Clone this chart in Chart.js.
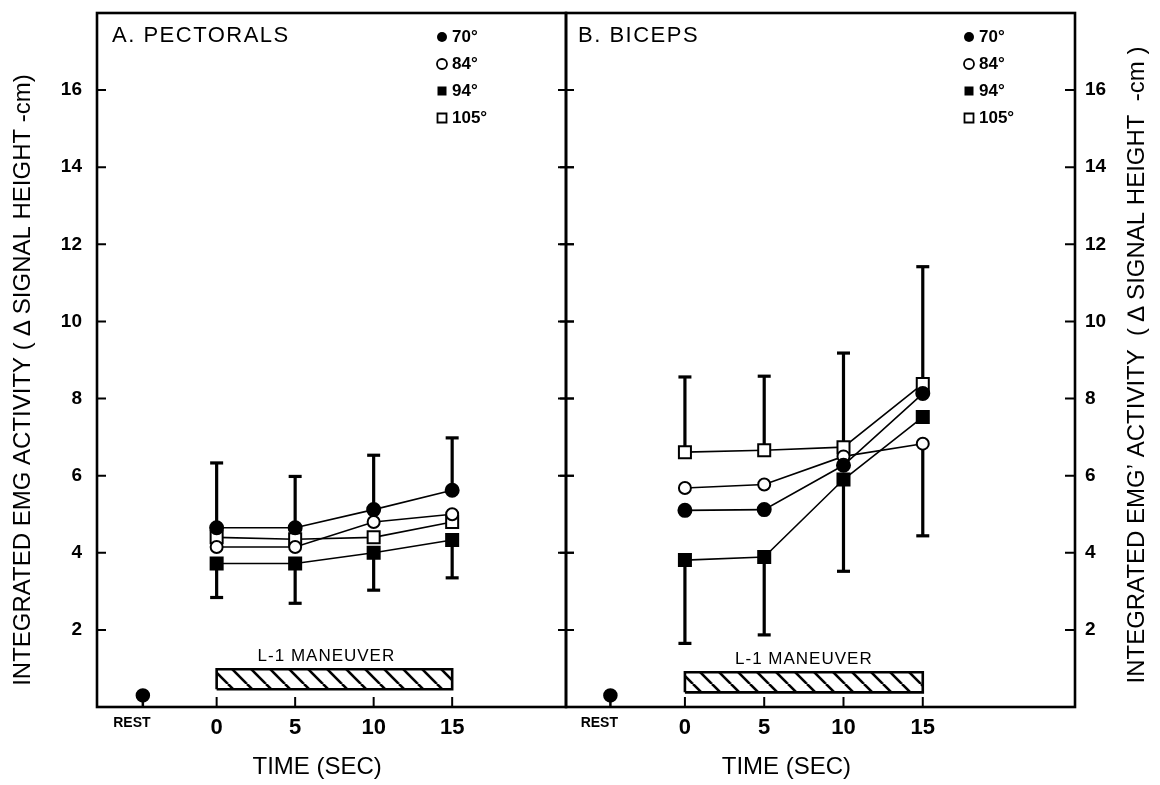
<!DOCTYPE html>
<html><head><meta charset="utf-8">
<script src="https://cdn.jsdelivr.net/npm/chart.js@4.4.1/dist/chart.umd.min.js"></script>
<style>
html,body{margin:0;padding:0;background:#fff;}
#wrap{position:relative;width:1160px;height:785px;overflow:hidden;background:#fff;}
#cA{position:absolute;left:0;top:0;}
#cB{position:absolute;left:560px;top:0;}
</style></head><body>
<div id="wrap"><canvas id="cA" width="580" height="785"></canvas><canvas id="cB" width="600" height="785"></canvas></div>
<script>
// ---------- DATA ----------
const times = [0, 5, 10, 15];
const seriesNames = ['70°', '84°', '94°', '105°'];
// A. Pectorals
const pect70  = [4.65, 4.65, 5.12, 5.62];
const pect84  = [4.15, 4.15, 4.80, 5.00];
const pect94  = [3.72, 3.72, 4.00, 4.33];
const pect105 = [4.40, 4.35, 4.40, 4.80];
const pectErrUpper = [6.33, 5.98, 6.53, 6.98];
const pectErrLower = [2.84, 2.69, 3.03, 3.35];
// B. Biceps
const bicep70  = [5.10, 5.12, 6.27, 8.13];
const bicep84  = [5.68, 5.77, 6.50, 6.83];
const bicep94  = [3.81, 3.89, 5.90, 7.52];
const bicep105 = [6.61, 6.66, 6.74, 8.38];
const bicepErrUpper = [8.56, 8.58, 9.18, 11.42];
const bicepErrLower = [1.65, 1.87, 3.52, 4.44];
// rest marker
const restTime = -4.7;
const restValue = 0.3;
// ticks
const xTickValues = [-5.4, 0, 5, 10, 15];
const xTickLabels = ['REST', '0', '5', '10', '15'];
const yTickValues = [2, 4, 6, 8, 10, 12, 14, 16];
// L-1 maneuver bar
const maneuverTime = [0, 15];
const pectManeuver = [0.46, 0.98];
const bicepManeuver = [0.38, 0.90];
const maneuverLabel = 'L-1 MANEUVER';
const xTitle = 'TIME (SEC)';
const yTitleLeft = 'INTEGRATED EMG ACTIVITY ( \u2206 SIGNAL HEIGHT -cm)';
const yTitleRight = 'INTEGRATED EMG\u2019 ACTIVITY  ( \u2206 SIGNAL HEIGHT  -cm )';

// ---------- STYLE ----------
const FAM = "'Liberation Sans', Arial, Helvetica, sans-serif";
const markerStyles = [
  {shape: 'circle', r: 6.5, fill: true},
  {shape: 'circle', r: 6, fill: false},
  {shape: 'rect', r: 8.5, fill: true},
  {shape: 'rect', r: 8.5, fill: false}
];

function hatchPattern() {
  const c = document.createElement('canvas');
  c.width = 19; c.height = 19;
  const g = c.getContext('2d');
  g.fillStyle = '#fff'; g.fillRect(0, 0, 19, 19);
  g.strokeStyle = '#000'; g.lineWidth = 2.6;
  for (const off of [-19, 0, 19]) {
    g.beginPath(); g.moveTo(off, 0); g.lineTo(off + 19, 19); g.stroke();
  }
  const ctx = document.createElement('canvas').getContext('2d');
  return ctx.createPattern(c, 'repeat');
}

function seriesDataset(values, idx) {
  const st = markerStyles[idx];
  return {
    label: seriesNames[idx],
    data: times.map((t, i) => ({x: t, y: values[i]})),
    borderColor: '#000', borderWidth: 1.6,
    pointStyle: st.shape, pointRadius: st.r,
    pointBackgroundColor: st.fill ? '#000' : '#fff',
    pointBorderColor: '#000', pointBorderWidth: 2,
    fill: false, tension: 0, order: 1
  };
}
function errBar(t, from, to) {
  return {
    data: [{x: t, y: from}, {x: t, y: to}],
    borderColor: '#000', borderWidth: 3.2,
    pointStyle: 'line', pointRadius: [0, 6.5], pointBorderWidth: 3.2,
    pointBorderColor: '#000', pointBackgroundColor: '#000',
    fill: false, order: 5
  };
}
function errDatasets(series, upper, lower) {
  const out = [];
  times.forEach((t, i) => {
    const vals = series.map(s => s[i]);
    out.push(errBar(t, Math.max(...vals), upper[i]));
    out.push(errBar(t, Math.min(...vals), lower[i]));
  });
  return out;
}
function maneuverDataset(range, pattern) {
  const [t0, t1] = maneuverTime, [lo, hi] = range;
  return {
    data: [{x: t0, y: lo}, {x: t0, y: hi}, {x: t1, y: hi}, {x: t1, y: lo}, {x: t0, y: lo}],
    borderColor: '#000', borderWidth: 2.6, backgroundColor: pattern,
    fill: 'shape', pointRadius: 0, tension: 0, order: 8
  };
}
function restDataset() {
  return {
    data: [{x: restTime, y: 0}, {x: restTime, y: restValue}],
    borderColor: '#000', borderWidth: 2.5, pointStyle: 'circle',
    pointRadius: [0, 6], pointBackgroundColor: '#000', pointBorderColor: '#000',
    fill: false, order: 6
  };
}

// decoration plugin: frame, inward ticks, titles, legend
const decor = {
  id: 'decor',
  afterDatasetsDraw(chart, args, o) {
    const ctx = chart.ctx, a = chart.chartArea;
    const xs = chart.scales.x, ys = chart.scales.y;
    ctx.save();
    ctx.strokeStyle = '#000'; ctx.fillStyle = '#000';
    // frame
    ctx.lineWidth = 2.6;
    ctx.strokeRect(a.left, a.top, a.right - a.left, a.bottom - a.top);
    // ticks
    ctx.lineWidth = 2;
    yTickValues.forEach(v => {
      const y = ys.getPixelForValue(v);
      ctx.beginPath();
      if (o.side === 'A') {
        ctx.moveTo(a.left, y); ctx.lineTo(a.left + 9, y);
        ctx.moveTo(a.right - 8, y); ctx.lineTo(a.right + 8, y);
      } else {
        ctx.moveTo(a.left - 8, y); ctx.lineTo(a.left + 8, y);
        ctx.moveTo(a.right - 10, y); ctx.lineTo(a.right, y);
      }
      ctx.stroke();
    });
    times.forEach(t => {
      const x = xs.getPixelForValue(t);
      ctx.beginPath(); ctx.moveTo(x, a.bottom); ctx.lineTo(x, a.bottom - 10); ctx.stroke();
    });
    // panel title
    ctx.textBaseline = 'middle'; ctx.textAlign = 'left';
    ctx.font = '22px ' + FAM;
    ctx.letterSpacing = '1.5px';
    ctx.fillText(o.title, a.left + o.titleDx, 36);
    ctx.letterSpacing = '0px';
    // legend
    ctx.font = 'bold 17px ' + FAM;
    seriesNames.forEach((name, i) => {
      const y = 37 + i * 27, x = a.right - o.legendDx;
      const st = markerStyles[i];
      ctx.beginPath();
      if (st.shape === 'circle') ctx.arc(x, y, 5, 0, Math.PI * 2);
      else ctx.rect(x - 4.5, y - 4.5, 9, 9);
      if (st.fill) ctx.fill(); else { ctx.lineWidth = 1.8; ctx.stroke(); }
      ctx.fillText(name, x + 10, y);
    });
    // maneuver label
    const mx = (xs.getPixelForValue(maneuverTime[0]) + xs.getPixelForValue(maneuverTime[1])) / 2;
    const my = ys.getPixelForValue(o.maneuver[1]) - 13;
    ctx.textAlign = 'center';
    ctx.font = '17px ' + FAM;
    ctx.letterSpacing = '1px';
    ctx.fillText(maneuverLabel, mx + o.labelDx, my);
    ctx.letterSpacing = '0px';
    // x title
    ctx.font = '24px ' + FAM;
    ctx.fillText(xTitle, xs.getPixelForValue(o.xTitleAt), 767);
    // y title (rotated, reading bottom to top)
    ctx.save();
    ctx.translate(o.yTitleX, o.yTitleY);
    ctx.rotate(-Math.PI / 2);
    ctx.font = '24px ' + FAM;
    ctx.fillText(o.yTitle, 0, 0);
    ctx.restore();
    ctx.restore();
  }
};

function noPad(s) { s.paddingTop = 0; s.paddingBottom = 0; s.paddingLeft = 0; s.paddingRight = 0; }

function makeChart(id, cfg) {
  const pattern = hatchPattern();
  const datasets = [
    ...cfg.series.map((s, i) => seriesDataset(s, i)),
    ...errDatasets(cfg.series, cfg.errUpper, cfg.errLower),
    maneuverDataset(cfg.maneuver, pattern),
    restDataset()
  ];
  return new Chart(document.getElementById(id), {
    type: 'line',
    data: {datasets},
    plugins: [decor],
    options: {
      responsive: false, animation: false, events: [],
      layout: {padding: cfg.padding, autoPadding: false},
      plugins: {
        legend: {display: false}, tooltip: {enabled: false}, title: {display: false},
        decor: cfg.decor
      },
      scales: {
        x: {
          type: 'linear', min: cfg.xMin, max: cfg.xMax,
          grid: {display: false, drawTicks: false}, border: {display: false},
          afterBuildTicks: s => { s.ticks = xTickValues.map(v => ({value: v})); },
          afterFit: s => { s.height = 78; noPad(s); },
          ticks: {
            autoSkip: false, maxRotation: 0, color: '#000', padding: 8,
            callback: (v, i) => xTickLabels[i],
            font: c => (c.index === 0 ? {family: FAM, size: 14, weight: 'bold'} : {family: FAM, size: 22, weight: 'bold'})
          }
        },
        y: {
          position: cfg.yPos, min: 0, max: 18,
          grid: {display: false, drawTicks: false}, border: {display: false},
          afterBuildTicks: s => { s.ticks = yTickValues.map(v => ({value: v})); },
          afterFit: s => { s.width = cfg.yWidth; noPad(s); },
          ticks: {color: '#000', padding: cfg.yPad, font: {family: FAM, size: 19, weight: 'bold'}}
        }
      }
    }
  });
}

makeChart('cA', {
  series: [pect70, pect84, pect94, pect105],
  errUpper: pectErrUpper, errLower: pectErrLower,
  maneuver: pectManeuver,
  xMin: -7.62, xMax: 22.25,
  padding: {left: 0, right: 14, top: 13, bottom: 0},
  yPos: 'left', yWidth: 97, yPad: 15,
  decor: {side: 'A', title: 'A. PECTORALS', titleDx: 15, legendDx: 124, maneuver: pectManeuver, xTitleAt: 6.4, labelDx: -8,
          yTitle: yTitleLeft, yTitleX: 23, yTitleY: 380}
});
makeChart('cB', {
  series: [bicep70, bicep84, bicep94, bicep105],
  errUpper: bicepErrUpper, errLower: bicepErrLower,
  maneuver: bicepManeuver,
  xMin: -7.5, xMax: 24.6,
  padding: {left: 6, right: 0, top: 13, bottom: 0},
  yPos: 'right', yWidth: 85, yPad: 10,
  decor: {side: 'B', title: 'B. BICEPS', titleDx: 12, legendDx: 106, maneuver: bicepManeuver, xTitleAt: 6.4, labelDx: 0,
          yTitle: yTitleRight, yTitleX: 577, yTitleY: 365}
});
</script>
</body></html>
